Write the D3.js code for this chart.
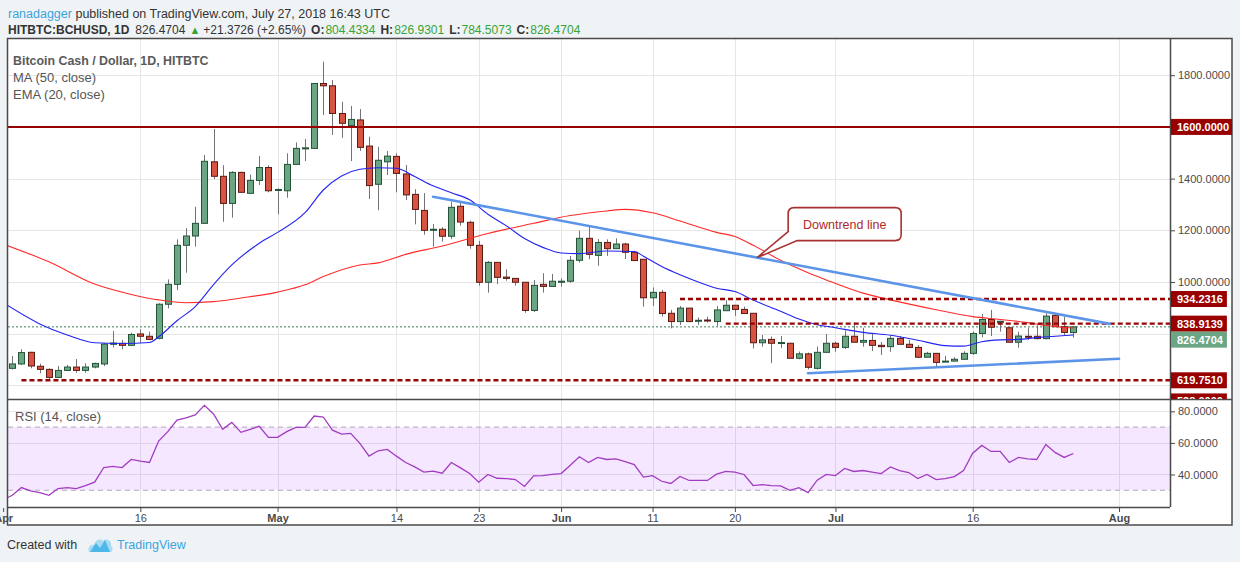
<!DOCTYPE html>
<html>
<head>
<meta charset="utf-8">
<script src="https://cdnjs.cloudflare.com/ajax/libs/d3/7.8.5/d3.min.js"></script>
<style>
body { margin: 0; background: #f0f3f6; }
svg { display: block; font-family: "Liberation Sans", Arial, sans-serif; }
</style>
</head>
<body>
<svg id="chart" width="1240" height="562"></svg>
<script>
// Daily candles, first one is 2 Apr 2018
var candleStart = "2018-04-02";
var opens = [666,683,728,674,662,631,658,671,658,671, 683,759,763,755,799,790,782,914,991,1142,
  1178,1227,1465,1409,1304,1424,1343,1393,1443,1355, 1353,1455,1517,1517,1768,1759,1652,1605,1627,1526,
  1378,1465,1486,1418,1339,1277,1200,1204,1177,1293, 1231,1142,999,1076,1019,1014,999,890,991,983,
  1000,1003,1084,1169,1103,1153,1129,1147,1115,1088, 939,960,879,847,899,850,853,847,889,910,
  894,879,765,778,764,763,705,722,666,728, 763,747,790,767,774,755,750,782,759,747,
  709,724,692,694,701,724,801,855,846,823, 767,790,790,781,871,827,804.4334];
var highs = [714,740,730,684,666,675,679,702,685,688, 763,810,776,804,817,808,918,1010,1165,1208,
  1291,1491,1592,1452,1429,1427,1416,1487,1452,1362, 1498,1540,1553,1768,1852,1781,1697,1681,1669,1562,
  1523,1507,1498,1453,1359,1344,1224,1212,1311,1307, 1237,1159,1081,1076,1049,1014,999,1008,1034,1031,
  1014,1101,1199,1214,1166,1165,1169,1152,1121,1088, 979,969,892,907,899,863,866,907,930,910,
  905,879,795,789,791,765,731,727,750,799, 769,812,843,823,801,768,791,791,776,756,
  730,724,714,709,732,808,876,892,850,823, 808,823,833,879,879,866,826.9301];
var lows = [662,679,666,647,621,631,657,649,649,666, 675,747,740,752,765,775,778,898,969,1036,
  1137,1227,1398,1233,1249,1347,1343,1375,1347,1262, 1326,1455,1468,1517,1646,1569,1558,1468,1507,1321,
  1278,1414,1347,1317,1223,1183,1137,1156,1166,1218, 1129,986,959,992,1005,986,881,884,959,982,
  982,997,1075,1088,1063,1101,1129,1089,1083,905, 907,866,821,834,847,834,843,830,889,869,
  878,743,750,686,744,705,701,662,662,728, 730,741,767,750,733,718,730,759,747,705,
  709,672,692,692,701,718,786,791,808,767, 746,776,778,778,827,795,784.5073];
var closes = [683,727,675,662,631,658,671,658,671,685, 760,764,755,797,790,778,914,991,1142,1178,
  1227,1467,1409,1304,1424,1347,1393,1443,1353,1358, 1455,1517,1519,1768,1759,1652,1614,1629,1521,1373,
  1471,1487,1420,1337,1281,1200,1204,1177,1289,1232, 1142,999,1076,1018,1014,999,890,987,983,1003,
  1003,1084,1169,1107,1153,1129,1147,1115,1083,939, 960,878,847,899,847,852,851,892,910,894,
  878,765,776,763,766,705,722,670,728,763, 747,790,767,774,755,750,782,759,747,709,
  724,689,694,701,724,801,855,825,848,767, 791,787,781,868,827,805,826.4704];

// MA (50) and EMA (20)
var ma50 = [["2018-04-01",1147],["2018-04-06",1078],["2018-04-11",992],["2018-04-15",952],["2018-04-18",931],
  ["2018-04-21",920],["2018-04-24",924],["2018-04-27",938],["2018-05-01",961],["2018-05-04",989],
  ["2018-05-06",1021],["2018-05-10",1066],["2018-05-12",1074],["2018-05-15",1107],["2018-05-19",1139],
  ["2018-05-24",1188],["2018-05-29",1227],["2018-06-02",1257],["2018-06-06",1275],["2018-06-08",1281],
  ["2018-06-11",1268],["2018-06-14",1236],["2018-06-18",1192],["2018-06-20",1176],["2018-06-22",1142],
  ["2018-06-25",1084],["2018-06-28",1036],["2018-06-30",1008],["2018-07-04",957],["2018-07-07",931],
  ["2018-07-12",893],["2018-07-16",866],["2018-07-19",855],["2018-07-22",843],["2018-07-24",832],["2018-07-27",822]];
var ema20 = [["2018-04-01",920],["2018-04-05",838],["2018-04-08",795],["2018-04-11",765],["2018-04-14",762],
  ["2018-04-17",766],["2018-04-18",788],["2018-04-20",850],["2018-04-22",905],["2018-04-24",990],
  ["2018-04-26",1066],["2018-04-29",1150],["2018-05-01",1192],["2018-05-04",1268],["2018-05-06",1356],
  ["2018-05-08",1410],["2018-05-10",1436],["2018-05-12",1442],["2018-05-14",1440],["2018-05-16",1408],
  ["2018-05-18",1372],["2018-05-20",1345],["2018-05-22",1318],["2018-05-24",1262],["2018-05-26",1218],
  ["2018-05-28",1168],["2018-05-30",1134],["2018-06-01",1112],["2018-06-03",1110],["2018-06-06",1120],
  ["2018-06-09",1118],["2018-06-10",1100],["2018-06-12",1060],["2018-06-14",1028],["2018-06-16",1000],
  ["2018-06-18",976],["2018-06-20",963],["2018-06-22",930],["2018-06-25",887],["2018-06-27",857],
  ["2018-06-29",835],["2018-07-01",823],["2018-07-04",805],["2018-07-07",794],["2018-07-10",775],
  ["2018-07-13",754],["2018-07-15",752],["2018-07-17",769],["2018-07-19",776],["2018-07-21",778],
  ["2018-07-23",785],["2018-07-27",795]];

// RSI (14), daily, first value is 1 Apr 2018
var rsiStart = "2018-04-01";
var rsi = [24.0, 26.8,31.7,29.6,28.5,26.8,31.1,31.7,31.1,33.0,35.1, 44.4,45.1,44.4,49.5,48.4,47.6,61.2,67.1,74.5,75.8,
  77.7,83.8,78.3,68.6,73.0,66.7,68.6,70.5,63.5,63.5, 67.1,69.8,69.8,77.0,76.4,68.1,65.6,66.0,59.7,51.6,
  55.0,55.9,51.6,47.6,44.8,41.5,42.1,40.8,47.6,44.2, 40.6,35.1,40.0,37.6,37.4,36.8,32.4,39.1,39.3,40.0,
  40.6,45.9,51.2,47.6,50.8,49.5,49.9,48.2,46.3,38.3, 39.3,35.7,34.3,38.7,36.2,36.2,36.2,40.2,41.9,41.5,
  40.0,33.0,33.6,33.0,32.8,30.0,31.7,28.5,36.4,40.0, 39.3,43.8,41.9,42.5,41.5,40.6,44.8,42.5,41.2,37.4,
  40.0,36.8,37.4,38.7,42.5,53.5,58.4,54.6,54.6,47.6, 50.8,49.9,49.5,59.0,54.0,50.8,53.3];

// drawings
var levels = [
  { value: 1600, from: "2018-03-31", solid: true },
  { value: 934.2316, from: "2018-06-14" },
  { value: 838.9139, from: "2018-06-19" },
  { value: 619.7510, from: "2018-04-03" },
  { value: 538.0, from: "2018-04-03" }
];
var lastPrice = 826.4704;
var trendLines = [
  [["2018-05-18", 1330], ["2018-07-31", 838]],
  [["2018-06-28", 647], ["2018-08-01", 703]]
];
var calloutText = "Downtrend line";
var calloutAt = "2018-06-22";

var tickDates = ["2018-04-01","2018-04-16","2018-05-01","2018-05-14","2018-05-23","2018-06-01",
  "2018-06-11","2018-06-20","2018-07-01","2018-07-16","2018-08-01"];
var tickLabels = ["Apr","16","May","14","23","Jun","11","20","Jul","16","Aug"];
var priceTicks = [1000, 1200, 1400, 1800];
var priceGrid = [600, 800, 1000, 1200, 1400, 1600, 1800];
var rsiTicks = [40, 60, 80];

var parse = d3.utcParse("%Y-%m-%d");
var svg = d3.select("#chart");

var L = 8, R = 1170, T = 38, B = 399, RB = 507, FR = 1232, FB = 525;

var x = d3.scaleUtc()
  .domain([parse("2018-04-02"), parse("2018-07-27")])
  .range([12.3, 1073.3]);
var y = d3.scaleLinear().domain([547.4, 1944]).range([B, T]);
var yr = d3.scaleLinear().domain([19.4, 87.8]).range([RB, B]);

var candles = opens.map(function(o, i) {
  return { date: d3.utcDay.offset(parse(candleStart), i), o: o, h: highs[i], l: lows[i], c: closes[i] };
});

// frame
svg.append("rect").attr("x", 7.5).attr("y", T + 0.5).attr("width", FR - 7.5).attr("height", FB - T)
  .attr("fill", "#fff");

var defs = svg.append("defs");
defs.append("clipPath").attr("id", "clipP").append("rect")
  .attr("x", L).attr("y", T).attr("width", R - L).attr("height", B - T);
defs.append("clipPath").attr("id", "clipR").append("rect")
  .attr("x", L).attr("y", B).attr("width", R - L).attr("height", RB - B);
defs.append("clipPath").attr("id", "clipAxis").append("rect")
  .attr("x", R).attr("y", T).attr("width", FR - R).attr("height", B - T);
defs.append("clipPath").attr("id", "clipFull").append("rect")
  .attr("x", L).attr("y", T).attr("width", R - L).attr("height", RB - T);

// grid
var grid = svg.append("g").attr("stroke", "#e6e6e6").attr("stroke-width", 1);
grid.selectAll(".vg").data(tickDates).enter().append("line")
  .attr("x1", function(d) { return Math.round(x(parse(d))) + 0.5; })
  .attr("x2", function(d) { return Math.round(x(parse(d))) + 0.5; })
  .attr("y1", T).attr("y2", RB)
  .attr("clip-path", "url(#clipFull)");
grid.selectAll(".hg").data(priceGrid).enter().append("line")
  .attr("x1", L).attr("x2", R)
  .attr("y1", function(d) { return Math.round(y(d)) + 0.5; })
  .attr("y2", function(d) { return Math.round(y(d)) + 0.5; });
grid.selectAll(".rg").data(rsiTicks).enter().append("line")
  .attr("x1", L).attr("x2", R)
  .attr("y1", function(d) { return Math.round(yr(d)) + 0.5; })
  .attr("y2", function(d) { return Math.round(yr(d)) + 0.5; });

// RSI pane
var rg = svg.append("g").attr("clip-path", "url(#clipR)");
rg.append("rect").attr("x", L).attr("width", R - L)
  .attr("y", yr(70)).attr("height", yr(30) - yr(70))
  .attr("fill", "#9915ff").attr("fill-opacity", 0.1);
[70, 30].forEach(function(v) {
  rg.append("line").attr("x1", L).attr("x2", R).attr("y1", yr(v)).attr("y2", yr(v))
    .attr("stroke", "#b0a8b8").attr("stroke-dasharray", "5,4").attr("stroke-width", 1);
});
var rsiLine = d3.line()
  .x(function(d, i) { return x(d3.utcDay.offset(parse(rsiStart), i)); })
  .y(function(d) { return yr(d); });
rg.append("path").datum(rsi).attr("d", rsiLine)
  .attr("fill", "none").attr("stroke", "#a23cc0").attr("stroke-width", 1.3);
svg.append("text").attr("x", 15).attr("y", 421).attr("fill", "#555").attr("font-size", 13)
  .text("RSI (14, close)");

// price pane
var pg = svg.append("g").attr("clip-path", "url(#clipP)");

// last price dotted line
pg.append("line").attr("x1", L).attr("x2", R).attr("y1", y(lastPrice)).attr("y2", y(lastPrice))
  .attr("stroke", "#3f7f56").attr("stroke-width", 1).attr("stroke-dasharray", "2,2");

// candles
var cg = pg.append("g");
cg.selectAll(".wick").data(candles).enter().append("line")
  .attr("x1", function(d) { return Math.round(x(d.date)) + 0.5; })
  .attr("x2", function(d) { return Math.round(x(d.date)) + 0.5; })
  .attr("y1", function(d) { return y(d.h); })
  .attr("y2", function(d) { return y(d.l); })
  .attr("stroke", "#737375").attr("stroke-width", 1);
cg.selectAll(".body").data(candles).enter().append("rect")
  .attr("x", function(d) { return Math.round(x(d.date)) - 2.5; })
  .attr("width", 6)
  .attr("y", function(d) { return y(Math.max(d.o, d.c)); })
  .attr("height", function(d) { return Math.max(1, Math.abs(y(d.o) - y(d.c))); })
  .attr("fill", function(d) { return d.c >= d.o ? "#6ba583" : "#d75442"; })
  .attr("stroke", function(d) { return d.c >= d.o ? "#225437" : "#5b1a13"; })
  .attr("stroke-width", 1);

// moving averages
var avgLine = d3.line()
  .x(function(d) { return x(parse(d[0])); })
  .y(function(d) { return y(d[1]); })
  .curve(d3.curveMonotoneX);
pg.append("path").datum(ma50).attr("d", avgLine)
  .attr("fill", "none").attr("stroke", "#ff2b2b").attr("stroke-width", 1.1);
pg.append("path").datum(ema20).attr("d", avgLine)
  .attr("fill", "none").attr("stroke", "#2323f2").attr("stroke-width", 1.1);

// horizontal levels
levels.forEach(function(lv) {
  pg.append("line")
    .attr("x1", x(parse(lv.from))).attr("x2", R)
    .attr("y1", y(lv.value)).attr("y2", y(lv.value))
    .attr("stroke", "#990000")
    .attr("stroke-width", lv.solid ? 2 : 2.4)
    .attr("stroke-dasharray", lv.solid ? null : "5,3");
});

// trend lines
var trendLine = d3.line()
  .x(function(d) { return x(parse(d[0])); })
  .y(function(d) { return y(d[1]); });
trendLines.forEach(function(t) {
  pg.append("path").datum(t).attr("d", trendLine)
    .attr("stroke", "#5b94e8").attr("stroke-width", 2.6).attr("fill", "none")
    .attr("stroke-linecap", "round");
});

// callout pointing at the downtrend line
var t0 = trendLines[0];
var tipX = x(parse(calloutAt)) + 4;
var tx0 = x(parse(t0[0][0])), tx1 = x(parse(t0[1][0]));
var tipY = y(t0[0][1] + (t0[1][1] - t0[0][1]) * (tipX - tx0) / (tx1 - tx0));
var bx = tipX + 31, by = tipY - 50, bw = 113, bh = 33, r = 6;
var cp = d3.path();
cp.moveTo(bx + r, by);
cp.lineTo(bx + bw - r, by);
cp.quadraticCurveTo(bx + bw, by, bx + bw, by + r);
cp.lineTo(bx + bw, by + bh - r);
cp.quadraticCurveTo(bx + bw, by + bh, bx + bw - r, by + bh);
cp.lineTo(bx + 9, by + bh);
cp.lineTo(tipX, tipY);
cp.lineTo(bx, by + bh - 9);
cp.lineTo(bx, by + r);
cp.quadraticCurveTo(bx, by, bx + r, by);
cp.closePath();
pg.append("path").attr("d", cp.toString())
  .attr("fill", "#fff").attr("stroke", "#a83232").attr("stroke-width", 1.6);
pg.append("text").attr("x", bx + bw / 2).attr("y", by + bh / 2 + 4.5)
  .attr("text-anchor", "middle").attr("fill", "#b02a2a").attr("font-size", 12.5)
  .text(calloutText);

// legend texts
var lg = svg.append("g").attr("fill", "#555").attr("font-size", 13);
lg.append("text").attr("x", 13).attr("y", 64.5).attr("font-weight", "bold").attr("fill", "#5a5a5a")
  .attr("font-size", 12.4)
  .text("Bitcoin Cash / Dollar, 1D, HITBTC");
lg.append("text").attr("x", 13).attr("y", 82).text("MA (50, close)");
lg.append("text").attr("x", 13).attr("y", 99).text("EMA (20, close)");

// panel borders
var bd = svg.append("g").attr("stroke", "#4a4a4a").attr("fill", "none");
bd.append("rect").attr("x", 7.5).attr("y", T + 0.5).attr("width", FR - 7.5).attr("height", FB - T - 0.5)
  .attr("stroke-width", 1.5);
bd.append("line").attr("x1", L).attr("x2", FR).attr("y1", B + 0.5).attr("y2", B + 0.5).attr("stroke-width", 1.5);
bd.append("line").attr("x1", L).attr("x2", R).attr("y1", RB + 0.5).attr("y2", RB + 0.5).attr("stroke-width", 1.5);
bd.append("line").attr("x1", R + 0.5).attr("x2", R + 0.5).attr("y1", T).attr("y2", RB).attr("stroke-width", 1.5);

// price axis
var fmt = d3.format(".4f");
function styleAxis(g) {
  g.select(".domain").remove();
  g.selectAll("text").attr("fill", "#4a4a4a").attr("font-size", 11)
    .attr("font-family", "Liberation Sans, Arial, sans-serif");
  g.selectAll("line").attr("stroke", "#4a4a4a");
}
svg.append("g").attr("transform", "translate(" + (R + 1) + ",0)")
  .call(d3.axisRight(y).tickValues(priceTicks).tickSize(4).tickPadding(3).tickFormat(fmt))
  .call(styleAxis);
svg.append("g").attr("transform", "translate(" + (R + 1) + ",0)")
  .call(d3.axisRight(yr).tickValues(rsiTicks).tickSize(4).tickPadding(3).tickFormat(fmt))
  .call(styleAxis);

// axis labels for levels and last price
var tags = levels.map(function(lv) { return { value: lv.value, fill: "#990000" }; });
tags.push({ value: lastPrice, fill: "#6ba583" });
tags.forEach(function(t) { t.cy = y(t.value); });
tags.sort(function(a, b) { return a.cy - b.cy; });
for (var i = 1; i < tags.length; i++) {
  if (tags[i].cy < tags[i - 1].cy + 16) tags[i].cy = tags[i - 1].cy + 16;
}
var tg = svg.append("g").attr("clip-path", "url(#clipAxis)");
tags.forEach(function(t) {
  var g = tg.append("g");
  var rect = g.append("rect").attr("x", R + 1).attr("y", t.cy - 8).attr("height", 16).attr("fill", t.fill);
  var txt = g.append("text").attr("x", R + 7).attr("y", t.cy + 4).attr("fill", "#fff")
    .attr("font-size", 11).attr("font-weight", "bold").text(fmt(t.value));
  var w = txt.node().getComputedTextLength();
  rect.attr("width", w + 10);
});

// time axis
svg.append("g").attr("transform", "translate(0," + (RB + 1) + ")")
  .call(d3.axisBottom(x).tickValues(tickDates.map(parse)).tickSize(4).tickPadding(2)
    .tickFormat(function(d, i) { return tickLabels[i]; }))
  .call(styleAxis)
  .call(function(g) {
    g.selectAll("text")
      .attr("font-weight", function(d, i) { return isNaN(+tickLabels[i]) ? "bold" : null; });
  });

// header
var hd = svg.append("text").attr("x", 8).attr("y", 18).attr("font-size", 12.5).attr("fill", "#333");
hd.append("tspan").attr("fill", "#3ba4dc").text("ranadagger");
hd.append("tspan").text(" published on TradingView.com, July 27, 2018 16:43 UTC");

var green = "#36a336";
var h2 = svg.append("text").attr("x", 8).attr("y", 34).attr("font-size", 12).attr("fill", "#333");
h2.append("tspan").attr("font-weight", "bold").text("HITBTC:BCHUSD, 1D");
h2.append("tspan").attr("dx", 6).text("826.4704");
h2.append("tspan").attr("dx", 4).attr("fill", green).attr("font-size", 11).text("\u25B2");
h2.append("tspan").attr("dx", 3).text("+21.3726 (+2.65%)");
[["O:", "804.4334"], ["H:", "826.9301"], ["L:", "784.5073"], ["C:", "826.4704"]].forEach(function(p) {
  h2.append("tspan").attr("dx", 5).attr("font-weight", "bold").text(p[0]);
  h2.append("tspan").attr("dx", 1).attr("fill", green).text(p[1]);
});

// footer
svg.append("text").attr("x", 7).attr("y", 549).attr("font-size", 12.5).attr("fill", "#333").text("Created with");
var logo = svg.append("g").attr("transform", "translate(88,537)");
logo.append("path").attr("d", "M1,15 C-1,10 3,7 6,8 C7,3 12,1 15,4 C18,1 24,3 23,9 C25,10 25,14 23,15 Z")
  .attr("fill", "#a9dcf3");
logo.append("path").attr("d", "M2,15 L8,6 L12,11 L17,3 L22,15 Z").attr("fill", "#4db8e8");
svg.append("text").attr("x", 117).attr("y", 549).attr("font-size", 12.5).attr("fill", "#3aa3e0").text("TradingView");
</script>
</body>
</html>
